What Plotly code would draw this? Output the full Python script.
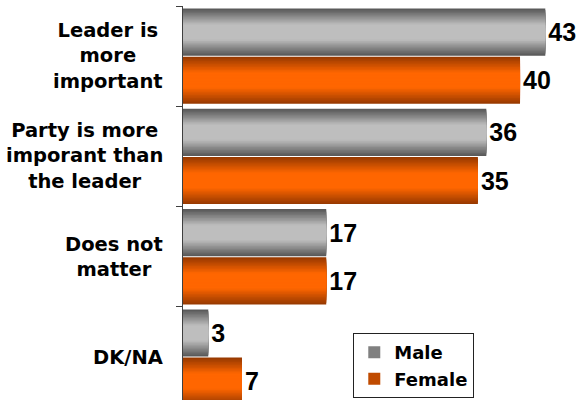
import plotly.graph_objects as go

# ---- data ----
categories = ["Leader is more important", "Party is more imporant than the leader",
              "Does not matter", "DK/NA"]
category_labels = ["Leader is<br>more<br>important", "Party is more<br>imporant than<br>the leader",
                   "Does not<br>matter", "DK/NA"]
male = [43, 36, 17, 3]
female = [40, 35, 17, 7]
series_names = ["Male", "Female"]

# ---- style ----
def hex2rgb(h):
    h = h.lstrip("#")
    return [int(h[i:i + 2], 16) for i in (0, 2, 4)]

def lerp(a, b, s):
    ra, rb = hex2rgb(a), hex2rgb(b)
    return "rgb(%d,%d,%d)" % tuple(round(x + (y - x) * s) for x, y in zip(ra, rb))

styles = [
    dict(edge="#5a5a5a", center="#bebebe", pos=-0.24),
    dict(edge="#993a00", center="#ff6600", pos=0.24),
]
BAR_W = 0.47
K = 16
LEGEND_K = 4

fig = go.Figure()
for name, vals, st in zip(series_names, [male, female], styles):
    for k in range(K):
        d = k / (2 * K)
        w = BAR_W * (1 - k / K)
        s = min(1.0, d / 0.33)
        color = lerp(st["edge"], st["center"], s)
        kw = {}
        if k == 0:
            kw = dict(text=[str(v) for v in vals], textposition="outside",
                      textfont=dict(family="Liberation Sans", size=25, color="black", weight="bold"),
                      cliponaxis=False, constraintext="none")
        fig.add_trace(go.Bar(
            y=categories, x=vals, orientation="h",
            width=w, offset=st["pos"] - w / 2,
            marker=dict(color=color, line=dict(width=0)),
            name=name, legendgroup=name,
            showlegend=(k == LEGEND_K),
            hoverinfo="skip",
            **kw,
        ))

for cat, lab in zip(categories, category_labels):
    fig.add_annotation(
        x=0, xref="paper", xanchor="right", xshift=-18,
        y=cat, yref="y", yanchor="middle",
        text=lab, align="center", showarrow=False,
        font=dict(family="DejaVu Sans", size=19.5, color="black", weight="bold"),
    )

fig.update_layout(
    width=579, height=400,
    margin=dict(l=183, r=0, t=6, b=0),
    paper_bgcolor="white", plot_bgcolor="white",
    barmode="overlay",
    showlegend=True,
    xaxis=dict(visible=False, range=[0, 47]),
    yaxis=dict(
        type="category", range=[3.428, -0.5],
        showline=True, linecolor="#404040", linewidth=1,
        ticks="outside", ticklen=6, tickcolor="#404040", tickson="boundaries",
        showticklabels=False, showgrid=False, zeroline=False,
    ),
    legend=dict(
        x=0.43, y=0.005, xanchor="left", yanchor="bottom",
        bgcolor="white", bordercolor="#222222", borderwidth=1,
        font=dict(family="DejaVu Sans", size=18, color="black", weight="bold"),
        traceorder="normal", tracegroupgap=0, itemwidth=30,
    ),
)

fig.write_html("out.html", config={"displayModeBar": False},
               post_script="document.body.style.margin='0px';")
